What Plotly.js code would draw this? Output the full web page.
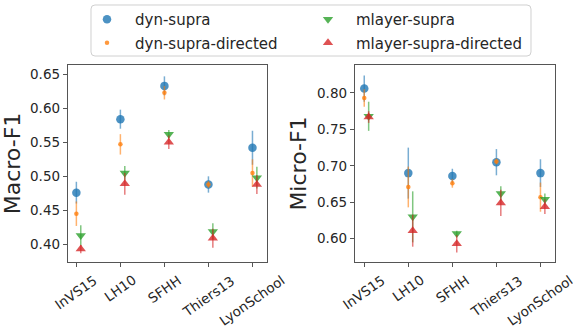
<!DOCTYPE html>
<html>
<head>
<meta charset="utf-8">
<script src="https://cdn.plot.ly/plotly-3.0.1.min.js"></script>
<style>
  html, body { margin: 0; padding: 0; background: #fff; }
  #chart { width: 573px; height: 330px; }
</style>
</head>
<body>
<div id="chart"></div>
<script>
// Datasets on the x axis
const datasets = ["InVS15", "LH10", "SFHH", "Thiers13", "LyonSchool"];

// Method names
const methods = ["dyn-supra", "dyn-supra-directed", "mlayer-supra", "mlayer-supra-directed"];

// Macro-F1 means and standard deviations
const macroDynSupra         = [0.476, 0.584, 0.633, 0.488, 0.542];
const macroDynSupraErr      = [0.016, 0.014, 0.014, 0.012, 0.025];
const macroDynSupraDir      = [0.445, 0.547, 0.623, 0.488, 0.505];
const macroDynSupraDirErr   = [0.018, 0.015, 0.010, 0.005, 0.020];
const macroMlayerSupra      = [0.413, 0.505, 0.562, 0.419, 0.498];
const macroMlayerSupraErr   = [0.015, 0.010, 0.006, 0.012, 0.016];
const macroMlayerSupraDir   = [0.393, 0.489, 0.550, 0.409, 0.488];
const macroMlayerSupraDirErr= [0.006, 0.016, 0.010, 0.014, 0.014];

// Micro-F1 means and standard deviations
const microDynSupra         = [0.806, 0.690, 0.686, 0.705, 0.690];
const microDynSupraErr      = [0.018, 0.035, 0.010, 0.018, 0.019];
const microDynSupraDir      = [0.793, 0.671, 0.676, 0.706, 0.657];
const microDynSupraDirErr   = [0.012, 0.028, 0.006, 0.004, 0.020];
const microMlayerSupra      = [0.768, 0.630, 0.607, 0.662, 0.654];
const microMlayerSupraErr   = [0.020, 0.035, 0.004, 0.010, 0.008];
const microMlayerSupraDir   = [0.767, 0.611, 0.593, 0.649, 0.644];
const microMlayerSupraDirErr= [0.008, 0.022, 0.012, 0.018, 0.010];

const FONT = "'DejaVu Sans'";
const TXT = "#262626";
const W = 573, H = 330;

// Per-method drawing style; dyn-* go in the left legend column, mlayer-* in the right
const styles = [
  { color: "#1f77b4", err: "rgba(31,119,180,0.6)",  symbol: "circle",        size: 8.5, shift: 0.0, legend: "legend" },
  { color: "#ff7f0e", err: "rgba(255,127,14,0.6)",  symbol: "circle",        size: 4.5, shift: 0.0, legend: "legend" },
  { color: "#2ca02c", err: "rgba(44,160,44,0.6)",   symbol: "triangle-down", size: 9,   shift: 0.1, legend: "legend2" },
  { color: "#d62728", err: "rgba(214,39,40,0.6)",   symbol: "triangle-up",   size: 9,   shift: 0.1, legend: "legend2" }
];

const macroSeries = [
  [macroDynSupra, macroDynSupraErr],
  [macroDynSupraDir, macroDynSupraDirErr],
  [macroMlayerSupra, macroMlayerSupraErr],
  [macroMlayerSupraDir, macroMlayerSupraDirErr]
];
const microSeries = [
  [microDynSupra, microDynSupraErr],
  [microDynSupraDir, microDynSupraDirErr],
  [microMlayerSupra, microMlayerSupraErr],
  [microMlayerSupraDir, microMlayerSupraDirErr]
];

const idx = datasets.map((_, i) => i);
const traces = [];

function addPanel(series, xa, ya, showLegend) {
  series.forEach((s, k) => {
    const st = styles[k];
    traces.push({
      type: "scatter",
      mode: "markers",
      name: methods[k],
      legend: st.legend,
      legendgroup: methods[k],
      showlegend: showLegend,
      x: idx.map(i => i + st.shift),
      y: s[0],
      xaxis: xa,
      yaxis: ya,
      marker: { color: st.color, symbol: st.symbol, size: st.size, opacity: 0.8, line: { width: 0 } },
      error_y: { type: "data", array: s[1], visible: true, color: st.err, thickness: 1.5, width: 0 },
      hoverinfo: "skip"
    });
  });
}
addPanel(macroSeries, "x", "y", true);
addPanel(microSeries, "x2", "y2", false);

// Rotated category labels centred under each tick
const annotations = [];
["x", "x2"].forEach(xr => {
  datasets.forEach((d, i) => {
    annotations.push({
      text: d, x: i, xref: xr, y: 1 - 269 / H, yref: "paper",
      xanchor: "center", yanchor: "top", showarrow: false, textangle: -35,
      font: { family: FONT, size: 13.5, color: TXT }
    });
  });
});

// Rounded frame around both legend columns
function roundedRect(x0, y0, x1, y1, r) {
  const px = v => (v / W).toFixed(5), py = v => (1 - v / H).toFixed(5);
  return `M ${px(x0 + r)} ${py(y0)} L ${px(x1 - r)} ${py(y0)} Q ${px(x1)} ${py(y0)} ${px(x1)} ${py(y0 + r)} ` +
         `L ${px(x1)} ${py(y1 - r)} Q ${px(x1)} ${py(y1)} ${px(x1 - r)} ${py(y1)} ` +
         `L ${px(x0 + r)} ${py(y1)} Q ${px(x0)} ${py(y1)} ${px(x0)} ${py(y1 - r)} ` +
         `L ${px(x0)} ${py(y0 + r)} Q ${px(x0)} ${py(y0)} ${px(x0 + r)} ${py(y0)} Z`;
}

const frame = { showline: true, mirror: true, linecolor: "#555", linewidth: 1.2,
  ticks: "outside", ticklen: 4, tickwidth: 1, tickcolor: "#555",
  showgrid: false, zeroline: false, automargin: false,
  tickfont: { family: FONT, size: 13.5, color: TXT } };

const legendBase = {
  orientation: "v", xanchor: "left", y: 1 - 3 / H, yanchor: "top",
  borderwidth: 0, bgcolor: "rgba(0,0,0,0)", tracegroupgap: 1, itemwidth: 46,
  font: { family: FONT, size: 15, color: TXT }
};

const layout = {
  width: W, height: H,
  margin: { l: 0, r: 0, t: 0, b: 0 },
  paper_bgcolor: "#fff", plot_bgcolor: "#fff",
  font: { family: FONT, color: TXT },
  showlegend: true,
  legend: Object.assign({}, legendBase, { x: 79 / W }),
  legend2: Object.assign({}, legendBase, { x: 300 / W }),
  shapes: [{ type: "path", xref: "paper", yref: "paper", path: roundedRect(91, 5, 531, 56, 4),
    line: { color: "#d0d0d0", width: 1 }, fillcolor: "rgba(0,0,0,0)", layer: "above" }],
  xaxis: Object.assign({}, frame, { domain: [68 / W, 267 / W], range: [-0.19, 4.33],
    tickvals: idx, showticklabels: false }),
  yaxis: Object.assign({}, frame, { domain: [1 - 262 / H, 1 - 65 / H], range: [0.374, 0.6637],
    tickvals: [0.40, 0.45, 0.50, 0.55, 0.60, 0.65], tickformat: ".2f",
    title: { text: "Macro-F1", font: { family: FONT, size: 22, color: TXT }, standoff: 4 } }),
  xaxis2: Object.assign({}, frame, { domain: [355 / W, 555 / W], range: [-0.21, 4.33],
    tickvals: idx, showticklabels: false, anchor: "y2" }),
  yaxis2: Object.assign({}, frame, { domain: [1 - 262 / H, 1 - 65 / H], range: [0.568, 0.8384],
    tickvals: [0.60, 0.65, 0.70, 0.75, 0.80], tickformat: ".2f", anchor: "x2",
    title: { text: "Micro-F1", font: { family: FONT, size: 22, color: TXT }, standoff: 4 } }),
  annotations: annotations
};

Plotly.newPlot("chart", traces, layout, { staticPlot: true, displayModeBar: false });
</script>
</body>
</html>
